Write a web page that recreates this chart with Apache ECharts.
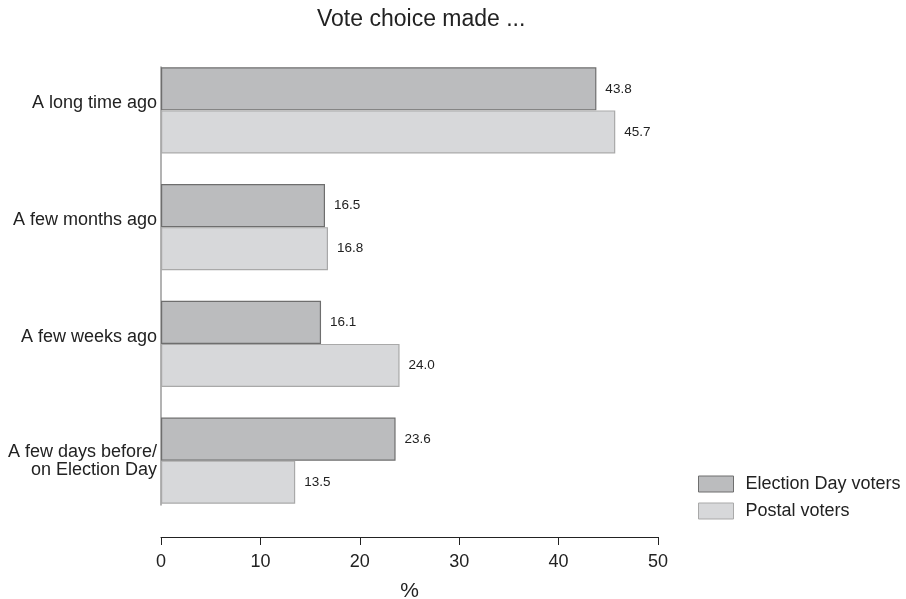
<!DOCTYPE html>
<html><head><meta charset="utf-8">
<script src="https://cdn.jsdelivr.net/npm/echarts@6/dist/echarts.min.js"></script>
<style>html,body{margin:0;padding:0;background:#fff}#c{width:906px;height:599px}</style>
</head><body><div id="c"></div>
<script>
const categories = ["A long time ago", "A few months ago", "A few weeks ago", "A few days before/\non Election Day"];
const electionDay = [43.8, 16.5, 16.1, 23.6];
const postal = [45.7, 16.8, 24.0, 13.5];
const seriesNames = ["Election Day voters", "Postal voters"];
const xTicks = { min: 0, max: 50, interval: 10 };

const F = '"Liberation Sans", Arial, Helvetica, sans-serif';
const chart = echarts.init(document.getElementById('c'));
const valLabel = {
  show: true, position: 'right', distance: 9, color: '#222', fontSize: 13.5, fontFamily: F,
  formatter: p => p.value.toFixed(1)
};
chart.setOption({
  animation: false,
  textStyle: { fontFamily: F },
  title: { text: 'Vote choice made ...', left: 312, top: 3,
    textStyle: { fontSize: 23, fontWeight: 'normal', color: '#222', fontFamily: F } },
  legend: {
    orient: 'vertical', left: 693, top: 470, itemWidth: 35, itemHeight: 16, itemGap: 9,
    icon: 'rect',
    textStyle: { fontSize: 18, color: '#222', fontFamily: F, padding: [0, 0, 0, 7] },
    data: [
      { name: seriesNames[0], itemStyle: { color: '#bbbcbe', borderColor: '#6e6e6e', borderWidth: 1 } },
      { name: seriesNames[1], itemStyle: { color: '#d7d8da', borderColor: '#a9a9a9', borderWidth: 1 } }
    ]
  },
  grid: [
    { left: 161, width: 497, top: 52, height: 467, containLabel: false, outerBoundsMode: 'none' },
    { left: 161, width: 10, top: 67, height: 438, containLabel: false, outerBoundsMode: 'none' }
  ],
  xAxis: [
    { type: 'value', gridIndex: 0, min: xTicks.min, max: xTicks.max, interval: xTicks.interval, offset: 18,
      name: '%', nameLocation: 'middle', nameGap: 44,
      nameTextStyle: { fontSize: 21, color: '#222', fontFamily: F },
      axisLine: { show: true, lineStyle: { color: '#222', width: 1 } },
      axisTick: { show: true, length: 8, lineStyle: { color: '#222' } },
      axisLabel: { fontSize: 18, color: '#222', margin: 16, fontFamily: F },
      splitLine: { show: false } },
    { type: 'value', gridIndex: 1, show: false, min: 0, max: 1 }
  ],
  yAxis: [
    { type: 'category', gridIndex: 0, inverse: true, data: categories,
      axisLine: { show: false }, axisTick: { show: false },
      axisLabel: { fontSize: 18, color: '#222', margin: 4, lineHeight: 18, fontFamily: F,
        formatter: v => v.indexOf('\n') >= 0 ? v : '{s|' + v + '}',
        rich: { s: { fontSize: 18, color: '#222', fontFamily: F, padding: [0, 0, 14, 0] } } } },
    { type: 'category', gridIndex: 1, data: categories,
      axisLine: { show: true, lineStyle: { color: '#9a9a9a', width: 1.5 } },
      axisTick: { show: false }, axisLabel: { show: false } }
  ],
  series: [
    { name: seriesNames[0], type: 'bar', data: electionDay, barGap: '0%', barCategoryGap: '26.3%',
      itemStyle: { color: '#bbbcbe', borderColor: '#6e6e6e', borderWidth: 1.2 }, label: valLabel },
    { name: seriesNames[1], type: 'bar', data: postal, barGap: '0%', barCategoryGap: '26.3%',
      itemStyle: { color: '#d7d8da', borderColor: '#a9a9a9', borderWidth: 1.2 }, label: valLabel }
  ]
});
</script></body></html>
